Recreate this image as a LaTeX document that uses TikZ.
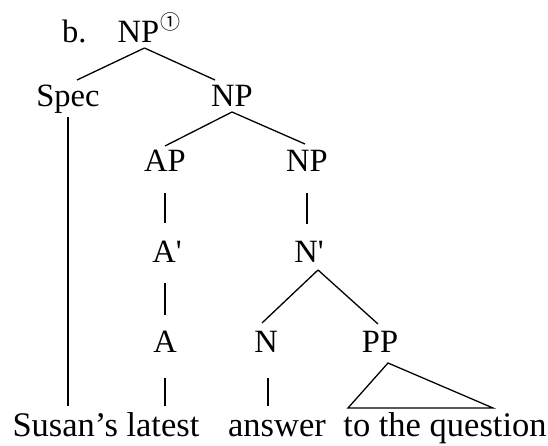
\documentclass[tikz,border=0pt]{standalone}
\usepackage{fontspec}
\setmainfont{Liberation Serif}
\newfontfamily\circfont{Noto Sans CJK SC}
\usetikzlibrary{calc}
\begin{document}
\begin{tikzpicture}[x=1pt,y=-1pt,
  lbl/.style={anchor=base,inner sep=0pt,font=\fontsize{32.5}{36}\selectfont},
  word/.style={anchor=base,inner sep=0pt,font=\fontsize{34.5}{38}\selectfont},
  edge/.style={line width=1.3pt},
  thickedge/.style={line width=2.3pt}]
\fill[white] (0,0) rectangle (548,446);
\useasboundingbox (0,0) rectangle (548,446);
% labels
\node[lbl,anchor=base west] (lb) at (62,43) {b.};
\node[lbl] (top) at (138.5,43) {NP};
\node[anchor=base west,inner sep=0pt,font=\circfont\fontsize{20}{22}\selectfont] (circ) at (160,30) {①};
\node[lbl] (spec) at (68,107) {Spec};
\node[lbl] (np2) at (232,107) {NP};
\node[lbl] (ap) at (165,172) {AP};
\node[lbl] (np3) at (307,172) {NP};
\node[lbl] (abar) at (167,262) {A\textquotesingle};
\node[lbl] (nbar) at (309,262) {N\textquotesingle};
\node[lbl] (a) at (165,352) {A};
\node[lbl] (n) at (266,352) {N};
\node[lbl] (pp) at (380,352) {PP};
\node[word] (w1) at (106,436) {Susan’s latest};
\node[word] (w2) at (277,436) {answer};
\node[word] (w3) at (445,436) {to the question};
% connectors
\draw[edge] ($(top.base)+(6,5)$) -- ($(spec.base)+(9,-27)$);
\draw[edge] ($(top.base)+(6,5)$) -- ($(np2.base)+(-17,-27)$);
\draw[edge] ($(np2.base)+(0,5)$) -- ($(ap.base)+(0,-26)$);
\draw[edge] ($(np2.base)+(0,5)$) -- ($(np3.base)+(-2,-28)$);
\draw[edge] ($(ap.base)+(0,21)$) -- ($(abar.base)+(-2,-39)$);
\draw[edge] ($(np3.base)+(0,21)$) -- ($(nbar.base)+(-2,-38)$);
\draw[thickedge] ($(abar.base)+(-2,21)$) -- ($(a.base)+(0,-37)$);
\draw[edge] ($(nbar.base)+(9,8)$) -- ($(n.base)+(-4,-29)$);
\draw[edge] ($(nbar.base)+(9,8)$) -- ($(pp.base)+(-2,-28)$);
\draw[edge] ($(a.base)+(0,26)$) -- ($(w1.base)+(59,-30)$);
\draw[edge] ($(n.base)+(2,26)$) -- ($(w2.base)+(-9,-30)$);
\draw[thickedge] ($(spec.base)+(0,10)$) -- ($(w1.base)+(-38,-30)$);
\draw[edge,line join=miter] ($(pp.base)+(8,11)$) -- ($(w3.base)+(-97,-28)$) -- ($(w3.base)+(48,-28)$) -- cycle;
\end{tikzpicture}
\end{document}
